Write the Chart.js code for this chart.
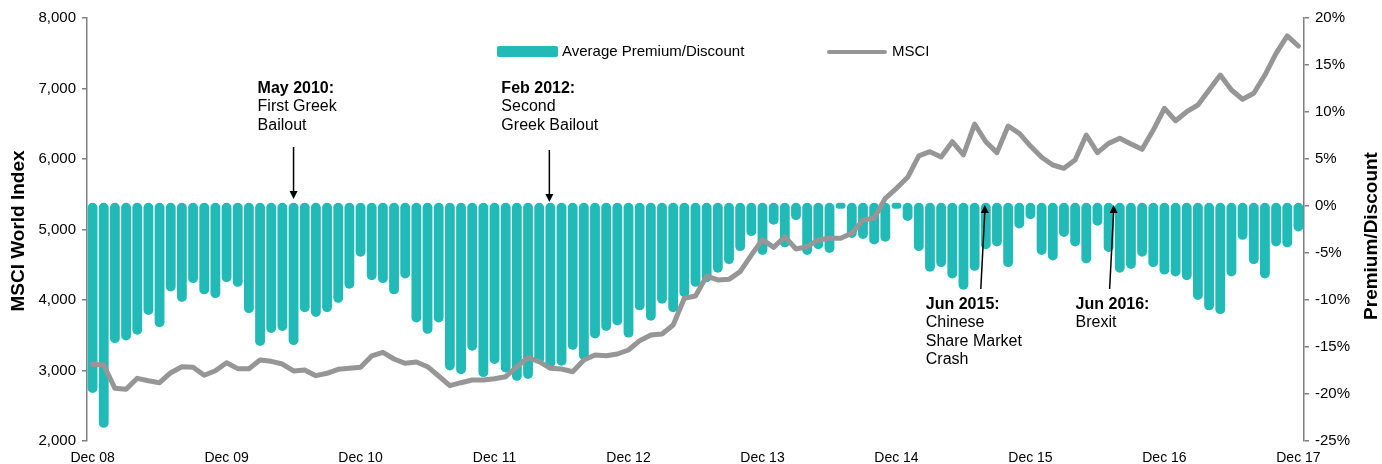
<!DOCTYPE html>
<html><head><meta charset="utf-8">
<script src="https://cdn.jsdelivr.net/npm/chart.js@4.4.1/dist/chart.umd.min.js"></script>
<style>html,body{margin:0;padding:0;background:#fff}#wrap{position:relative;width:1382px;height:464px}</style>
</head><body><div id="wrap"><canvas id="c" width="1382" height="464"></canvas></div>
<script>
const categories = [
 'Dec 08','Jan 09','Feb 09','Mar 09','Apr 09','May 09','Jun 09','Jul 09','Aug 09','Sep 09','Oct 09','Nov 09',
 'Dec 09','Jan 10','Feb 10','Mar 10','Apr 10','May 10','Jun 10','Jul 10','Aug 10','Sep 10','Oct 10','Nov 10',
 'Dec 10','Jan 11','Feb 11','Mar 11','Apr 11','May 11','Jun 11','Jul 11','Aug 11','Sep 11','Oct 11','Nov 11',
 'Dec 11','Jan 12','Feb 12','Mar 12','Apr 12','May 12','Jun 12','Jul 12','Aug 12','Sep 12','Oct 12','Nov 12',
 'Dec 12','Jan 13','Feb 13','Mar 13','Apr 13','May 13','Jun 13','Jul 13','Aug 13','Sep 13','Oct 13','Nov 13',
 'Dec 13','Jan 14','Feb 14','Mar 14','Apr 14','May 14','Jun 14','Jul 14','Aug 14','Sep 14','Oct 14','Nov 14',
 'Dec 14','Jan 15','Feb 15','Mar 15','Apr 15','May 15','Jun 15','Jul 15','Aug 15','Sep 15','Oct 15','Nov 15',
 'Dec 15','Jan 16','Feb 16','Mar 16','Apr 16','May 16','Jun 16','Jul 16','Aug 16','Sep 16','Oct 16','Nov 16',
 'Dec 16','Jan 17','Feb 17','Mar 17','Apr 17','May 17','Jun 17','Jul 17','Aug 17','Sep 17','Oct 17','Nov 17',
 'Dec 17'];
const tickLabels = ['Dec 08','Dec 09','Dec 10','Dec 11','Dec 12','Dec 13','Dec 14','Dec 15','Dec 16','Dec 17'];

// Average premium/discount (%), right axis
const premium = [
 -19.9,-23.6,-14.6,-14.3,-13.7,-11.6,-12.9,-9.1,-10.2,-8.2,-9.4,-9.8,
 -8.1,-8.6,-11.4,-14.9,-13.5,-13.3,-14.8,-11.3,-11.8,-11.3,-10.3,-8.8,
 -5.4,-7.9,-8.2,-9.4,-7.7,-12.4,-13.6,-12.4,-17.5,-17.9,-15.4,-18.2,
 -16.8,-17.7,-18.6,-18.4,-16.8,-17.2,-17.0,-15.3,-16.4,-14.1,-13.3,-12.7,
 -14.0,-11.1,-12.2,-10.4,-11.3,-9.7,-8.6,-8.1,-7.1,-6.2,-4.8,-3.2,
 -5.2,-2.0,-4.4,-1.5,-5.2,-4.6,-5.0,-0.3,-3.4,-3.5,-4.1,-3.8,
 -0.3,-1.6,-4.8,-7.0,-6.5,-7.7,-8.9,-6.9,-4.6,-4.3,-6.5,-2.4,
 -1.4,-5.2,-5.8,-3.3,-4.3,-6.1,-2.1,-4.9,-7.1,-6.7,-5.4,-6.5,
 -7.3,-7.5,-7.9,-10.0,-11.1,-11.5,-7.5,-3.6,-6.2,-7.7,-4.3,-4.4,
 -2.7];

// MSCI World Index, left axis
const msci = [
 3090,3078,2747,2733,2889,2855,2827,2969,3054,3045,2932,2997,
 3111,3026,3026,3149,3130,3092,2993,3007,2927,2960,3017,3031,
 3045,3206,3258,3163,3102,3120,3054,2922,2785,2827,2865,2865,
 2884,2912,3054,3182,3125,3031,3021,2983,3149,3220,3210,3234,
 3291,3423,3504,3518,3645,4024,4057,4340,4284,4293,4402,4638,
 4856,4747,4898,4723,4756,4851,4875,4875,4946,5135,5159,5443,
 5584,5740,6045,6104,6028,6245,6060,6496,6245,6090,6468,6364,
 6184,6024,5915,5868,5986,6340,6090,6222,6293,6213,6137,6411,
 6719,6543,6671,6766,6979,7191,6979,6847,6932,7191,7499,7745,
 7603];

const annotations = [
  {idx:18, dx:0, bold:'May 2010:', lines:['First Greek','Bailout'], textDx:-36, textY:93, arrowFrom:147, arrowTo:199, up:false},
  {idx:41, dx:-1, bold:'Feb 2012:', lines:['Second','Greek Bailout'], textDx:-48, textY:93, arrowFrom:150, arrowTo:202, up:false},
  {idx:80, dx:-1, bold:'Jun 2015:', lines:['Chinese','Share Market','Crash'], textDx:-59, textY:309, arrowFrom:289, arrowTo:205, up:true, tilt:-4},
  {idx:91, dx:5, bold:'Jun 2016:', lines:['Brexit'], textDx:-38, textY:309, arrowFrom:289, arrowTo:205, up:true, tilt:-4}
];

const TEAL = '#21BAB6';
const GREY = '#969696';
const FONT = '"Liberation Sans", Arial, sans-serif';

const decor = {
  id:'decor',
  afterDraw(chart){
    const c = chart.ctx, xs = chart.scales.x;
    c.save();
    // legend
    c.fillStyle = TEAL;
    c.beginPath(); c.roundRect(497,46,61,11,2); c.fill();
    c.fillStyle = '#000'; c.font = '15px '+FONT; c.textBaseline='middle'; c.textAlign='left';
    c.fillText('Average Premium/Discount', 562, 52);
    c.strokeStyle = GREY; c.lineWidth = 4; c.lineCap='round';
    c.beginPath(); c.moveTo(829,52); c.lineTo(885,52); c.stroke();
    c.fillText('MSCI', 892, 52);
    // axis titles
    c.font = 'bold 19px '+FONT; c.textAlign='center';
    c.save(); c.translate(19,231); c.rotate(-Math.PI/2); c.fillText('MSCI World Index',0,0); c.restore();
    c.save(); c.translate(1372,236); c.rotate(-Math.PI/2); c.fillText('Premium/Discount',0,0); c.restore();
    // annotations
    c.textAlign='left'; c.textBaseline='alphabetic';
    annotations.forEach(a=>{
      const x = xs.getPixelForValue(a.idx) + a.dx;
      const tx = x + a.textDx;
      c.fillStyle='#000';
      c.font='bold 16px '+FONT; c.fillText(a.bold, tx, a.textY);
      c.font='16px '+FONT;
      a.lines.forEach((l,i)=>c.fillText(l, tx, a.textY+18.3*(i+1)));
      const x1 = x + (a.tilt||0), x2 = x;
      c.strokeStyle='#000'; c.lineWidth=1.5; c.lineCap='butt';
      c.beginPath(); c.moveTo(x1,a.arrowFrom);
      const tipY = a.arrowTo, hl = 8;
      c.lineTo(x2, a.up ? tipY+hl-1 : tipY-hl+1); c.stroke();
      c.fillStyle='#000'; c.beginPath();
      if(a.up){ c.moveTo(x2,tipY); c.lineTo(x2-4,tipY+hl); c.lineTo(x2+4,tipY+hl); }
      else { c.moveTo(x2,tipY); c.lineTo(x2-4,tipY-hl); c.lineTo(x2+4,tipY-hl); }
      c.closePath(); c.fill();
    });
    c.restore();
  }
};

new Chart(document.getElementById('c'), {
  data:{
    labels: categories,
    datasets:[
      {type:'line', label:'MSCI', data: msci, yAxisID:'y', borderColor:GREY, borderWidth:5,
       pointRadius:0, tension:0, borderJoinStyle:'round', borderCapStyle:'round', order:0},
      {type:'bar', label:'Average Premium/Discount', data: premium, yAxisID:'y1', backgroundColor:TEAL,
       borderRadius:5, borderSkipped:false, base:0.35, barPercentage:0.88, categoryPercentage:1, order:1}
    ]
  },
  options:{
    responsive:false, animation:false, devicePixelRatio:1,
    layout:{padding:{top:18,left:0,right:0,bottom:0}},
    plugins:{legend:{display:false}, tooltip:{enabled:false}},
    scales:{
      x:{
        grid:{display:false, drawTicks:false}, border:{display:false},
        ticks:{autoSkip:false, maxRotation:0, minRotation:0, padding:9, color:'#000',
          font:{family:FONT, size:14},
          callback:(v,i)=> tickLabels.includes(categories[i]) && i%12===0 ? categories[i] : ''},
        afterFit:s=>{s.height=23;}
      },
      y:{
        position:'left', min:2000, max:8000,
        ticks:{stepSize:1000, padding:6, color:'#000', font:{family:FONT, size:15},
          callback:v=>Number(v).toLocaleString('en-US')},
        grid:{drawOnChartArea:false, tickLength:5, color:'#808080', lineWidth:1.5},
        border:{color:'#808080', width:1.5},
        afterFit:s=>{s.width=87;}
      },
      y1:{
        position:'right', min:-25, max:20,
        ticks:{stepSize:5, padding:6, color:'#000', font:{family:FONT, size:15},
          callback:v=>v+'%'},
        grid:{drawOnChartArea:false, tickLength:5, color:'#808080', lineWidth:1.5},
        border:{color:'#808080', width:1.5},
        afterFit:s=>{s.width=78;}
      }
    }
  },
  plugins:[decor]
});
</script></body></html>
